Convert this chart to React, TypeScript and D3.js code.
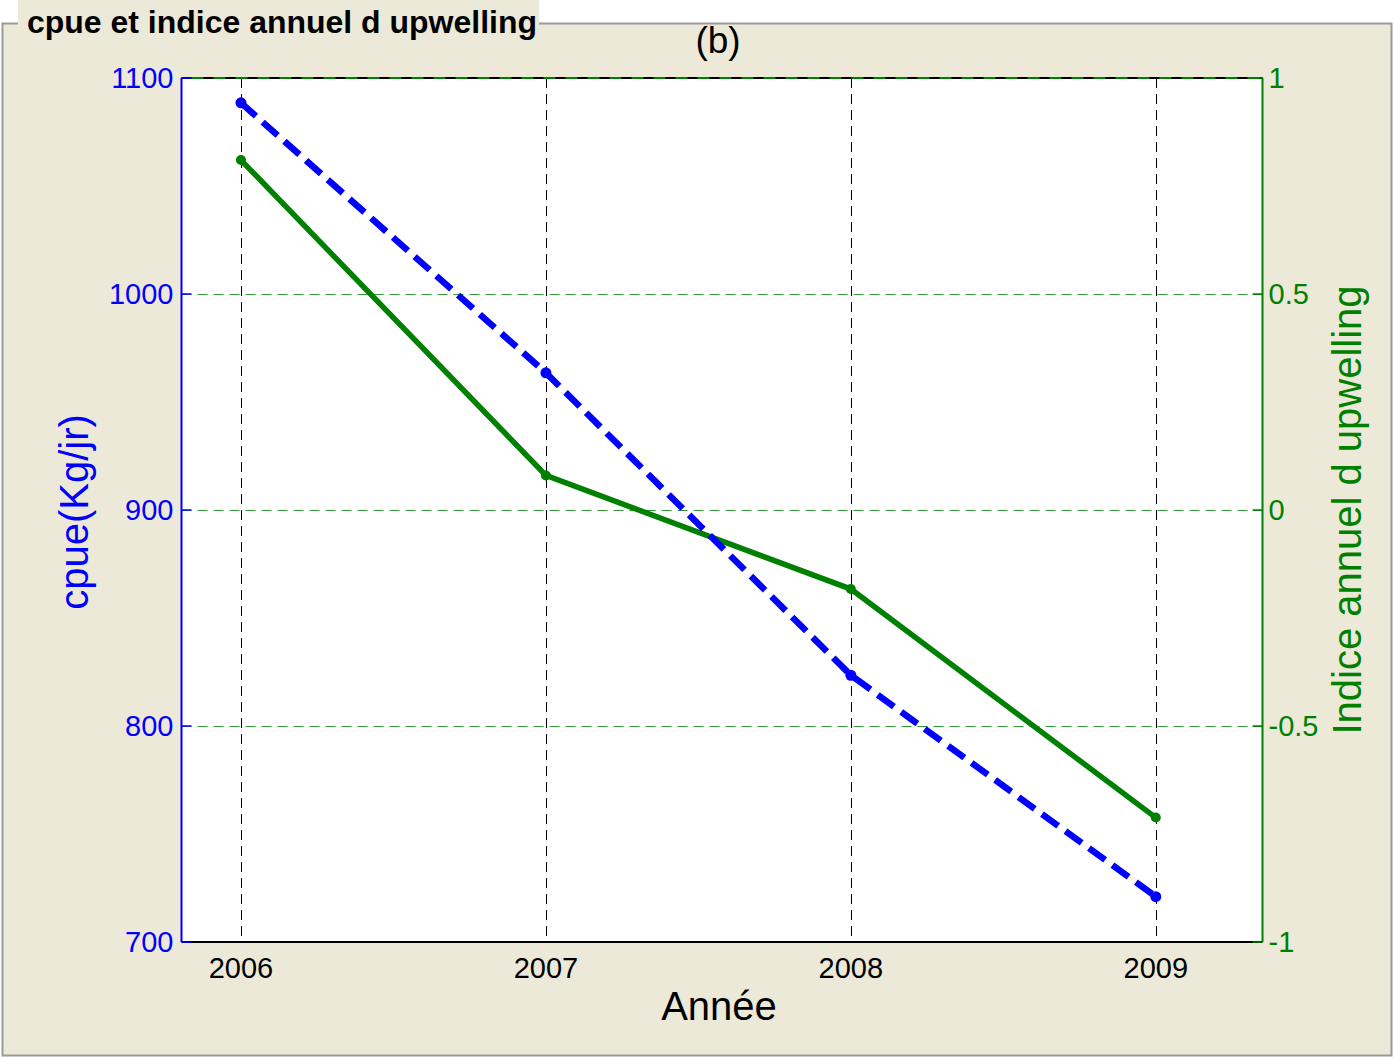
import React, { useEffect, useRef } from "react";
import * as d3 from "d3";

const years = [2006, 2007, 2008, 2009];
const cpue = [1088.5, 963.5, 823.5, 721];
const upwelling = [0.81, 0.08, -0.183, -0.712];
const leftTicks = [700, 800, 900, 1000, 1100];
const rightTicks = [-1, -0.5, 0, 0.5, 1];

const BLUE = "#0000ff";
const GREEN = "#008000";
const BEIGE = "#ece9d8";

const App = () => {
  const svgRef = useRef<SVGSVGElement>(null);

  useEffect(() => {
    const svg = d3.select(svgRef.current);
    svg.selectAll("*").remove();

    const width = 1394;
    const height = 1058;
    const margin = { top: 78, right: 131.5, bottom: 116, left: 181.5 };
    const font = "Liberation Sans, Arial, Helvetica, sans-serif";

    // panel frame
    svg.append("rect").attr("width", width).attr("height", height).attr("fill", "#fff");
    svg
      .append("rect")
      .attr("x", 2.5)
      .attr("y", 23.5)
      .attr("width", 1389)
      .attr("height", 1032)
      .attr("fill", BEIGE)
      .attr("stroke", "#9a9a9a")
      .attr("stroke-width", 2);
    svg
      .append("rect")
      .attr("x", 18)
      .attr("y", 0)
      .attr("width", 521)
      .attr("height", 41)
      .attr("fill", BEIGE);
    svg
      .append("text")
      .attr("x", 27)
      .attr("y", 33)
      .attr("font-family", font)
      .attr("font-weight", "bold")
      .attr("font-size", 31)
      .attr("textLength", 510)
      .attr("lengthAdjust", "spacingAndGlyphs")
      .attr("fill", "#000")
      .text("cpue et indice annuel d upwelling");

    const x = d3
      .scaleLinear()
      .domain([2005.805, 2009.35])
      .range([margin.left, width - margin.right]);
    const yL = d3
      .scaleLinear()
      .domain([700, 1100])
      .range([height - margin.bottom, margin.top]);
    const yR = d3
      .scaleLinear()
      .domain([-1, 1])
      .range([height - margin.bottom, margin.top]);

    const x0 = margin.left;
    const x1 = width - margin.right;
    const y0 = margin.top;
    const y1 = height - margin.bottom;

    svg
      .append("rect")
      .attr("x", x0)
      .attr("y", y0)
      .attr("width", x1 - x0)
      .attr("height", y1 - y0)
      .attr("fill", "#fff");

    // vertical grid
    svg
      .append("g")
      .selectAll("line")
      .data(years)
      .join("line")
      .attr("x1", (d) => Math.round(x(d)) + 0.5)
      .attr("x2", (d) => Math.round(x(d)) + 0.5)
      .attr("y1", y0)
      .attr("y2", y1)
      .attr("stroke", "#000")
      .attr("stroke-dasharray", "10,6");

    // horizontal grid (right axis on top)
    svg
      .append("g")
      .selectAll("line")
      .data(rightTicks.slice(1, -1))
      .join("line")
      .attr("x1", x0)
      .attr("x2", x1)
      .attr("y1", (d) => Math.round(yR(d)) + 0.5)
      .attr("y2", (d) => Math.round(yR(d)) + 0.5)
      .attr("stroke", GREEN)
      .attr("stroke-opacity", 0.8)
      .attr("stroke-dasharray", "10,6");

    // frame
    svg.append("line").attr("x1", x0).attr("x2", x1).attr("y1", y1).attr("y2", y1).attr("stroke", "#000").attr("stroke-width", 2);
    svg.append("line").attr("x1", x0).attr("x2", x1).attr("y1", y0).attr("y2", y0).attr("stroke", GREEN).attr("stroke-width", 2);
    svg.append("line").attr("x1", x0).attr("x2", x1).attr("y1", y0).attr("y2", y0).attr("stroke", "#000").attr("stroke-width", 2).attr("stroke-dasharray", "10,12");
    svg.append("line").attr("x1", x0).attr("x2", x0).attr("y1", y0).attr("y2", y1).attr("stroke", BLUE).attr("stroke-width", 2);
    svg.append("line").attr("x1", x1).attr("x2", x1).attr("y1", y0).attr("y2", y1).attr("stroke", GREEN).attr("stroke-width", 2);

    // ticks
    svg
      .append("g")
      .selectAll("line")
      .data(leftTicks)
      .join("line")
      .attr("x1", x0)
      .attr("x2", x0 + 10)
      .attr("y1", (d) => yL(d))
      .attr("y2", (d) => yL(d))
      .attr("stroke", BLUE)
      .attr("stroke-width", 1.5);
    svg
      .append("g")
      .selectAll("line")
      .data(rightTicks)
      .join("line")
      .attr("x1", x1 - 10)
      .attr("x2", x1)
      .attr("y1", (d) => yR(d))
      .attr("y2", (d) => yR(d))
      .attr("stroke", GREEN)
      .attr("stroke-width", 1.5);

    // tick labels
    svg
      .append("g")
      .selectAll("text")
      .data(leftTicks)
      .join("text")
      .attr("x", x0 - 8)
      .attr("y", (d) => yL(d) + 10)
      .attr("text-anchor", "end")
      .attr("font-family", font)
      .attr("font-size", 29)
      .attr("fill", BLUE)
      .text((d) => d3.format("d")(d));
    svg
      .append("g")
      .selectAll("text")
      .data(rightTicks)
      .join("text")
      .attr("x", x1 + 6)
      .attr("y", (d) => yR(d) + 10)
      .attr("font-family", font)
      .attr("font-size", 29)
      .attr("fill", GREEN)
      .text((d) => String(d));
    svg
      .append("g")
      .selectAll("text")
      .data(years)
      .join("text")
      .attr("x", (d) => x(d))
      .attr("y", y1 + 36)
      .attr("text-anchor", "middle")
      .attr("font-family", font)
      .attr("font-size", 29)
      .attr("fill", "#000")
      .text((d) => String(d));

    // axis labels and title
    svg
      .append("text")
      .attr("x", 719)
      .attr("y", 1020)
      .attr("text-anchor", "middle")
      .attr("font-family", font)
      .attr("font-size", 40)
      .text("Année");
    svg
      .append("text")
      .attr("x", 718)
      .attr("y", 53)
      .attr("text-anchor", "middle")
      .attr("font-family", font)
      .attr("font-size", 37)
      .text("(b)");
    svg
      .append("text")
      .attr("transform", `translate(88,${(y0 + y1) / 2 + 2}) rotate(-90)`)
      .attr("text-anchor", "middle")
      .attr("font-family", font)
      .attr("font-size", 40)
      .attr("fill", BLUE)
      .text("cpue(Kg/jr)");
    svg
      .append("text")
      .attr("transform", `translate(1361,${(y0 + y1) / 2}) rotate(-90)`)
      .attr("text-anchor", "middle")
      .attr("font-family", font)
      .attr("font-size", 40)
      .attr("fill", GREEN)
      .text("Indice annuel d upwelling");

    // series
    const lineL = d3
      .line<number>()
      .x((_, i) => x(years[i]))
      .y((d) => yL(d));
    const lineR = d3
      .line<number>()
      .x((_, i) => x(years[i]))
      .y((d) => yR(d));

    svg
      .append("path")
      .attr("d", lineR(upwelling))
      .attr("fill", "none")
      .attr("stroke", GREEN)
      .attr("stroke-width", 5.5);
    svg
      .append("g")
      .selectAll("circle")
      .data(upwelling)
      .join("circle")
      .attr("cx", (_, i) => x(years[i]))
      .attr("cy", (d) => yR(d))
      .attr("r", 5)
      .attr("fill", GREEN);

    svg
      .append("path")
      .attr("d", lineL(cpue))
      .attr("fill", "none")
      .attr("stroke", BLUE)
      .attr("stroke-width", 6.5)
      .attr("stroke-dasharray", "20,9");
    svg
      .append("g")
      .selectAll("circle")
      .data(cpue)
      .join("circle")
      .attr("cx", (_, i) => x(years[i]))
      .attr("cy", (d) => yL(d))
      .attr("r", 5.5)
      .attr("fill", BLUE);
  }, []);

  return (
    <svg
      ref={svgRef}
      width="1394"
      height="1058"
      style={{ position: "absolute", left: 0, top: 0 }}
    ></svg>
  );
};

export default App;
